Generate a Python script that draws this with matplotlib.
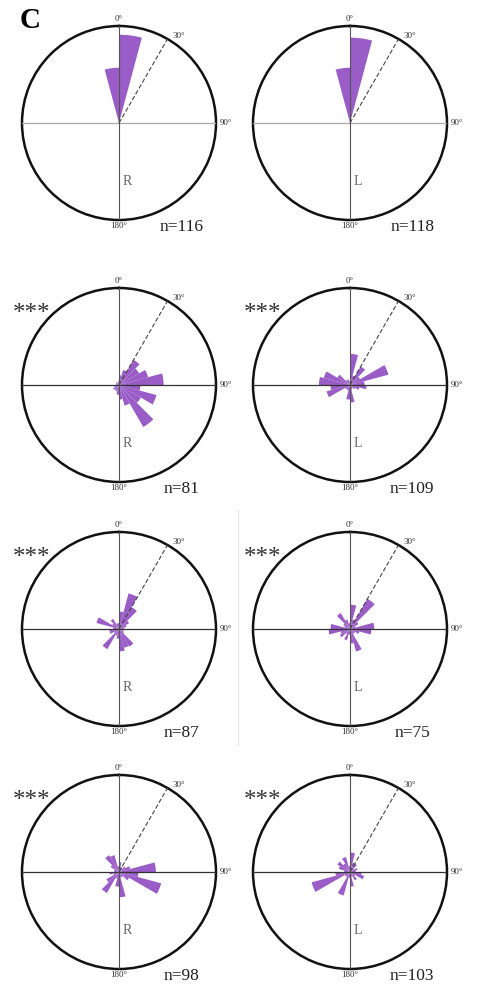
import numpy as np
import matplotlib.pyplot as plt
from matplotlib.lines import Line2D

# bin starts in degrees (15 degree bins, clockwise from north)
bins_deg = np.arange(0, 360, 15)

# bar lengths, fraction of circle radius, one value per bin
r1 = [0.91, 0, 0, 0, 0, 0, 0, 0, 0, 0, 0, 0,
      0, 0, 0, 0, 0, 0, 0, 0, 0, 0, 0, 0.57]
l1 = [0.88, 0, 0, 0, 0, 0, 0, 0, 0, 0, 0, 0,
      0, 0, 0, 0, 0, 0, 0, 0, 0, 0, 0, 0.57]
r2 = [0.10, 0.16, 0.30, 0.24, 0.31, 0.46, 0.22, 0.40, 0.26, 0.50, 0.22, 0.15,
      0.10, 0.07, 0.06, 0.07, 0.05, 0.04, 0.03, 0.03, 0.04, 0.03, 0.03, 0.04]
l2 = [0.32, 0.10, 0.22, 0.12, 0.41, 0.15, 0.17, 0.10, 0.06, 0.04, 0.05, 0.18,
      0.15, 0.06, 0.05, 0.06, 0.25, 0.20, 0.32, 0.28, 0.15, 0.06, 0.06, 0.04]
r3 = [0.18, 0.38, 0.26, 0.12, 0.08, 0.05, 0.06, 0.04, 0.06, 0.21, 0.20, 0.23,
      0.10, 0.07, 0.24, 0.06, 0.10, 0.10, 0.06, 0.24, 0.08, 0.12, 0.06, 0.06]
l3 = [0.25, 0.10, 0.36, 0.10, 0.06, 0.25, 0.22, 0.10, 0.06, 0.06, 0.24, 0.15,
      0.06, 0.12, 0.06, 0.12, 0.10, 0.22, 0.20, 0.06, 0.08, 0.19, 0.10, 0.06]
r4 = [0.10, 0.06, 0.05, 0.08, 0.12, 0.38, 0.20, 0.45, 0.12, 0.06, 0.06, 0.26,
      0.15, 0.07, 0.25, 0.15, 0.06, 0.10, 0.05, 0.05, 0.10, 0.20, 0.18, 0.06]
l4 = [0.20, 0.10, 0.10, 0.05, 0.08, 0.06, 0.12, 0.15, 0.06, 0.10, 0.05, 0.15,
      0.06, 0.25, 0.06, 0.06, 0.41, 0.15, 0.06, 0.12, 0.15, 0.10, 0.16, 0.06]

panels = [r1, l1, r2, l2, r3, l3, r4, l4]
sides = ["R", "L"] * 4
counts = ["n=116", "n=118", "n=81", "n=109", "n=87", "n=75", "n=98", "n=103"]
stars = [False, False, True, True, True, True, True, True]

W, H = 479, 989
fig = plt.figure(figsize=(W / 100, H / 100), dpi=100)
serif = ["Liberation Serif", "DejaVu Serif"]
purple = "#9a5cc6"

cx = [119, 350]
cy = [123, 385, 629, 872]
rad = 97

for i, vals in enumerate(panels):
    row, col = i // 2, i % 2
    x0 = (cx[col] - rad) / W
    y0 = 1 - (cy[row] + rad) / H
    ax = fig.add_axes([x0, y0, 2 * rad / W, 2 * rad / H], projection="polar")
    ax.set_theta_zero_location("N")
    ax.set_theta_direction(-1)
    ax.set_ylim(0, 1)
    ax.grid(False)
    ax.set_xticks([])
    ax.set_yticks([])
    ax.spines["polar"].set_linewidth(1.8)
    ax.spines["polar"].set_color("#111111")

    ax.bar(np.deg2rad(bins_deg), vals, width=np.deg2rad(15), align="edge",
           color=purple, edgecolor="none", zorder=2)

    hcol = "#aaaaaa" if row == 0 else "#333333"
    vcol = "#555555"
    ax.plot([np.pi / 2, np.pi / 2], [0, 1], color=hcol, lw=0.9, zorder=3)
    ax.plot([3 * np.pi / 2, 3 * np.pi / 2], [0, 1], color=hcol, lw=0.9, zorder=3)
    ax.plot([0, 0], [0, 1], color=vcol, lw=0.8, zorder=3)
    ax.plot([np.pi, np.pi], [0, 1], color=vcol, lw=0.8, zorder=3)
    ax.plot([np.deg2rad(30), np.deg2rad(30)], [0, 1], color="#444444", lw=0.8,
            ls=(0, (4, 2)), zorder=3)

    ax.text(0, 1.03, "0°", ha="center", va="bottom", fontsize=6.5, family=serif,
            color="#333333", clip_on=False)
    ax.text(np.deg2rad(33), 1.02, "30°", ha="left", va="bottom", fontsize=6.5,
            family=serif, color="#333333", clip_on=False)
    ax.text(np.deg2rad(90), 1.04, "90°", ha="left", va="center", fontsize=6.5,
            family=serif, color="#333333", clip_on=False)
    ax.text(np.pi, 1.02, "180°", ha="center", va="top", fontsize=6.5, family=serif,
            color="#333333", clip_on=False)

    ax.text(0.5 + 0.04, 0.2, sides[i], transform=ax.transAxes, ha="center",
            va="center", fontsize=10, family=serif, color="#666666")
    ax.text(0.82, -0.035, counts[i], transform=ax.transAxes, ha="center",
            va="center", fontsize=12.5, family=serif, color="#222222")
    if stars[i]:
        ax.text(0.05, 0.865, "***", transform=ax.transAxes, ha="center",
                va="center", fontsize=18, family=serif, color="#333333")

fig.text(30 / W, 1 - 20 / H, "C", ha="center", va="center", fontsize=21,
         fontweight="bold", family=serif, color="black")

# faint separator between the third row panels
fig.add_artist(Line2D([238 / W, 238 / W], [1 - 510 / H, 1 - 745 / H],
                      color="#e4e4e4", lw=0.8))

fig.savefig("out.png", dpi=100, facecolor="white")
